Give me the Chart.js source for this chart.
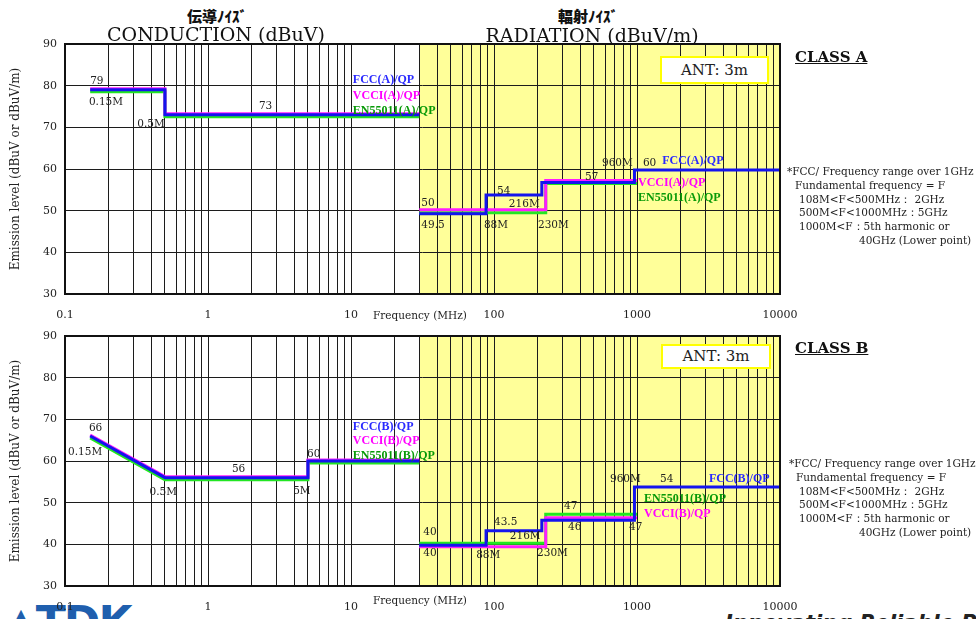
<!DOCTYPE html>
<html>
<head>
<meta charset="utf-8">
<script src="https://cdn.jsdelivr.net/npm/chart.js@4.4.1/dist/chart.umd.min.js"></script>
<style>
  html, body { margin: 0; padding: 0; background: #fff; }
  body { width: 976px; height: 619px; position: relative; overflow: hidden; font-family: "DejaVu Serif", serif; color: #111; }
  .abs { position: absolute; white-space: nowrap; }
  .jp { font-family: "Noto Sans CJK JP", sans-serif; font-weight: 900; font-size: 15px; line-height: 16px; width: 200px; text-align: center; }
  .title { font-size: 19px; line-height: 22px; width: 300px; text-align: center; }
  .ytitle { font-size: 12px; transform: translate(-50%, -50%) rotate(-90deg); color: #222; }
  .freq { font-size: 10.5px; color: #222; }
  .ant { background: #fff; border: 2px solid #ffff00; font-size: 15px; text-align: center; color: #222; box-sizing: border-box; }
  .cls { font-size: 15px; font-weight: bold; text-decoration: underline; }
  .note { font-size: 10.5px; line-height: 13.7px; color: #222; }
  canvas { position: absolute; }
</style>
</head>
<body>

<div class="abs" style="left:4px;top:597px;font:bold 44px 'DejaVu Sans',sans-serif;color:#1f5fae;letter-spacing:-2px;">▲TDK</div>
<div class="abs" style="left:725px;top:611px;font:italic bold 21px 'DejaVu Sans',sans-serif;color:#222;">Innovating Reliable Power</div>

<canvas id="chartA" width="800" height="300" style="left:0;top:30px"></canvas>
<canvas id="chartB" width="800" height="300" style="left:0;top:322px"></canvas>

<div class="abs jp" style="left:117px;top:8px">伝導ﾉｲｽﾞ</div>
<div class="abs title" style="left:66px;top:23px">CONDUCTION (dBuV)</div>
<div class="abs jp" style="left:488px;top:8px">輻射ﾉｲｽﾞ</div>
<div class="abs title" style="left:442px;top:24px">RADIATION (dBuV/m)</div>

<div class="abs ytitle" style="left:15px;top:169px">Emission level (dBuV or dBuV/m)</div>
<div class="abs ytitle" style="left:15px;top:461px">Emission level (dBuV or dBuV/m)</div>

<div class="abs freq" style="left:373px;top:309px">Frequency (MHz)</div>
<div class="abs freq" style="left:373px;top:594px">Frequency (MHz)</div>

<div class="abs ant" style="left:660px;top:56px;width:109px;height:28px;line-height:24px">ANT: 3m</div>
<div class="abs ant" style="left:661px;top:344px;width:110px;height:25px;line-height:21px">ANT: 3m</div>

<div class="abs cls" style="left:795px;top:48px">CLASS A</div>
<div class="abs cls" style="left:795px;top:339px">CLASS B</div>

<div class="abs note" style="left:787px;top:165px">*FCC/ Frequency range over 1GHz</div>
<div class="abs note" style="left:795px;top:179px">Fundamental frequency = F</div>
<div class="abs note" style="left:799px;top:193px">108M&lt;F&lt;500MHz： 2GHz</div>
<div class="abs note" style="left:799px;top:206px">500M&lt;F&lt;1000MHz：5GHz</div>
<div class="abs note" style="left:799px;top:220px">1000M&lt;F：5th harmonic or</div>
<div class="abs note" style="left:859px;top:234px">40GHz (Lower point)</div>

<div class="abs note" style="left:789px;top:457px">*FCC/ Frequency range over 1GHz</div>
<div class="abs note" style="left:796px;top:471px">Fundamental frequency = F</div>
<div class="abs note" style="left:799px;top:485px">108M&lt;F&lt;500MHz： 2GHz</div>
<div class="abs note" style="left:799px;top:498px">500M&lt;F&lt;1000MHz：5GHz</div>
<div class="abs note" style="left:799px;top:512px">1000M&lt;F：5th harmonic or</div>
<div class="abs note" style="left:859px;top:526px">40GHz (Lower point)</div>

<script>
'use strict';
// axis
let xTickVals = [0.1, 1, 10, 100, 1000, 10000];
let xTickLabels = ['0.1', '1', '10', '100', '1000', '10000'];
let yMin = 30;
let yMax = 90;
let radiationFrom = 30; // MHz, yellow zone starts here

// CLASS A - conduction (MHz / dBuV)
let condA_freq = [0.15, 0.5, 0.5, 30];
let fccA_cond = [79, 79, 73, 73];
let vcciA_cond = [79, 79, 73, 73];
let enA_cond = [79, 79, 73, 73];
// CLASS A - radiation (MHz / dBuV/m)
let fccA_radFreq = [30, 88, 88, 216, 216, 960, 960, 10000];
let fccA_rad = [49.5, 49.5, 54, 54, 57, 57, 60, 60];
let otherA_radFreq = [30, 230, 230, 1000];
let vcciA_rad = [50, 50, 57, 57];
let enA_rad = [50, 50, 57, 57];

// CLASS B - conduction
let condB_freq = [0.15, 0.5, 5, 5, 30];
let fccB_cond = [66, 56, 56, 60, 60];
let vcciB_cond = [66, 56, 56, 60, 60];
let enB_cond = [66, 56, 56, 60, 60];
// CLASS B - radiation
let fccB_radFreq = [30, 88, 88, 216, 216, 960, 960, 10000];
let fccB_rad = [40, 40, 43.5, 43.5, 46, 46, 54, 54];
let otherB_radFreq = [30, 230, 230, 1000];
let vcciB_rad = [40, 40, 47, 47];
let enB_rad = [40, 40, 47, 47];

// text notes inside the plots: [text, MHz, dB, kind]
let notesA = [
  ['79', 0.15, 81], ['0.15M', 0.147, 76.1], ['0.5M', 0.32, 70.8], ['73', 2.27, 75.1],
  ['FCC(A)/QP', 10.3, 81.4, 'fcc'], ['VCCI(A)/QP', 10.3, 77.5, 'vcci'], ['EN55011(A)/QP', 10.3, 73.9, 'en'],
  ['50', 31, 51.8], ['49.5', 31, 46.6], ['54', 105, 54.6], ['88M', 85, 46.6],
  ['216M', 127, 51.6], ['230M', 203, 46.6], ['57', 433, 58.1], ['960M', 569, 61.4], ['60', 1100, 61.4],
  ['FCC(A)/QP', 1500, 61.9, 'fcc'], ['VCCI(A)/QP', 1016, 56.6, 'vcci'], ['EN55011(A)/QP', 1016, 53.0, 'en']
];
let notesB = [
  ['66', 0.147, 67.8], ['0.15M', 0.105, 62], ['0.5M', 0.39, 52.6], ['56', 1.47, 57.9],
  ['5M', 3.94, 52.8], ['60', 4.93, 61.7],
  ['FCC(B)/QP', 10.3, 68.2, 'fcc'], ['VCCI(B)/QP', 10.3, 64.9, 'vcci'], ['EN55011(B)/QP', 10.3, 61.3, 'en'],
  ['40', 32, 43], ['40', 32, 37.9], ['43.5', 100, 45.4], ['88M', 75, 37.4], ['216M', 129, 42],
  ['230M', 200, 37.9], ['47', 309, 49.2], ['46', 329, 44.2], ['960M', 647, 55.7], ['54', 1449, 55.7],
  ['FCC(B)/QP', 3184, 55.7, 'fcc'], ['EN55011(B)/QP', 1119, 50.9, 'en'], ['VCCI(B)/QP', 1119, 47.3, 'vcci'],
  ['47', 879, 44]
];

let lineColor = { fcc: '#1414ee', vcci: '#ff1cff', en: '#22e622' };
let textColor = { fcc: '#2a2aff', vcci: '#ff00ff', en: '#089a08' };

// grid lines at 1..9 of every decade
let gridFreqs = [];
for (let d = 0; d < xTickVals.length - 1; d++) {
  for (let k = 1; k < 10; k++) gridFreqs.push(+(xTickVals[d] * k).toPrecision(3));
}
gridFreqs.push(xTickVals[xTickVals.length - 1]);

function points(freq, level) {
  return freq.map((f, i) => ({ x: f, y: level[i] }));
}

function line(kind, freq, level, dy) {
  return {
    data: points(freq, level),
    borderColor: lineColor[kind],
    borderWidth: 3,
    pointRadius: 0,
    tension: 0,
    fill: false,
    dy: dy
  };
}

function makeDecor(notes) {
  return {
    id: 'decor',
    beforeDraw(chart) {
      let ctx = chart.ctx;
      let a = chart.chartArea;
      let x0 = chart.scales.x.getPixelForValue(radiationFrom);
      ctx.save();
      ctx.fillStyle = '#ffff99';
      ctx.fillRect(x0, a.top, a.right - x0, a.bottom - a.top);
      ctx.restore();
    },
    beforeDatasetDraw(chart, args) {
      let dy = chart.data.datasets[args.index].dy || 0;
      chart.ctx.save();
      chart.ctx.translate(0, dy);
    },
    afterDatasetDraw(chart) {
      chart.ctx.restore();
    },
    afterDraw(chart) {
      let ctx = chart.ctx;
      let a = chart.chartArea;
      let sx = chart.scales.x;
      let sy = chart.scales.y;
      ctx.save();
      ctx.strokeStyle = '#111';
      ctx.lineWidth = 2;
      ctx.strokeRect(a.left, a.top, a.right - a.left, a.bottom - a.top);
      ctx.textBaseline = 'middle';
      ctx.textAlign = 'left';
      notes.forEach(n => {
        if (n[3]) {
          ctx.font = 'bold 12px "Liberation Serif", serif';
          ctx.fillStyle = textColor[n[3]];
        } else {
          ctx.font = '10.5px "DejaVu Serif", serif';
          ctx.fillStyle = '#222';
        }
        ctx.fillText(n[0], sx.getPixelForValue(n[1]), sy.getPixelForValue(n[2]));
      });
      ctx.restore();
    }
  };
}

function makeChart(id, datasets, notes) {
  return new Chart(document.getElementById(id), {
    type: 'line',
    data: { datasets: datasets },
    options: {
      responsive: false,
      animation: false,
      devicePixelRatio: 1,
      layout: { padding: { top: 14, right: 20, left: 0, bottom: 0 } },
      plugins: { legend: { display: false }, tooltip: { enabled: false } },
      scales: {
        x: {
          type: 'logarithmic',
          min: xTickVals[0],
          max: xTickVals[xTickVals.length - 1],
          afterBuildTicks: s => { s.ticks = gridFreqs.map(v => ({ value: v })); },
          afterFit: s => { s.height = 36; s.paddingLeft = 0; s.paddingRight = 0; },
          grid: { color: '#1c1c1c', lineWidth: 1, drawTicks: false },
          border: { display: false },
          ticks: {
            autoSkip: false,
            maxRotation: 0,
            padding: 15,
            color: '#222',
            font: { family: 'DejaVu Serif', size: 11 },
            callback: v => {
              let i = xTickVals.findIndex(t => Math.abs(t - v) / t < 1e-6);
              return i >= 0 ? xTickLabels[i] : '';
            }
          }
        },
        y: {
          min: yMin,
          max: yMax,
          afterFit: s => { s.width = 65; s.paddingTop = 0; s.paddingBottom = 0; },
          grid: { color: '#1c1c1c', lineWidth: 1, drawTicks: false },
          border: { display: false },
          ticks: {
            stepSize: 10,
            padding: 8,
            color: '#222',
            font: { family: 'DejaVu Serif', size: 11 }
          }
        }
      }
    },
    plugins: [makeDecor(notes)]
  });
}

// index 0 is drawn on top
makeChart('chartA', [
  line('fcc', condA_freq, fccA_cond, 0),
  line('vcci', condA_freq, vcciA_cond, -1),
  line('en', condA_freq, enA_cond, 2),
  line('fcc', fccA_radFreq, fccA_rad, 1),
  line('vcci', otherA_radFreq, vcciA_rad, -1),
  line('en', otherA_radFreq, enA_rad, 2)
], notesA);

makeChart('chartB', [
  line('fcc', condB_freq, fccB_cond, 0),
  line('vcci', condB_freq, vcciB_cond, -1),
  line('en', condB_freq, enB_cond, 2),
  line('fcc', fccB_radFreq, fccB_rad, 1),
  line('vcci', otherB_radFreq, vcciB_rad, 2.5),
  line('en', otherB_radFreq, enB_rad, -1)
], notesB);
</script>
</body>
</html>
